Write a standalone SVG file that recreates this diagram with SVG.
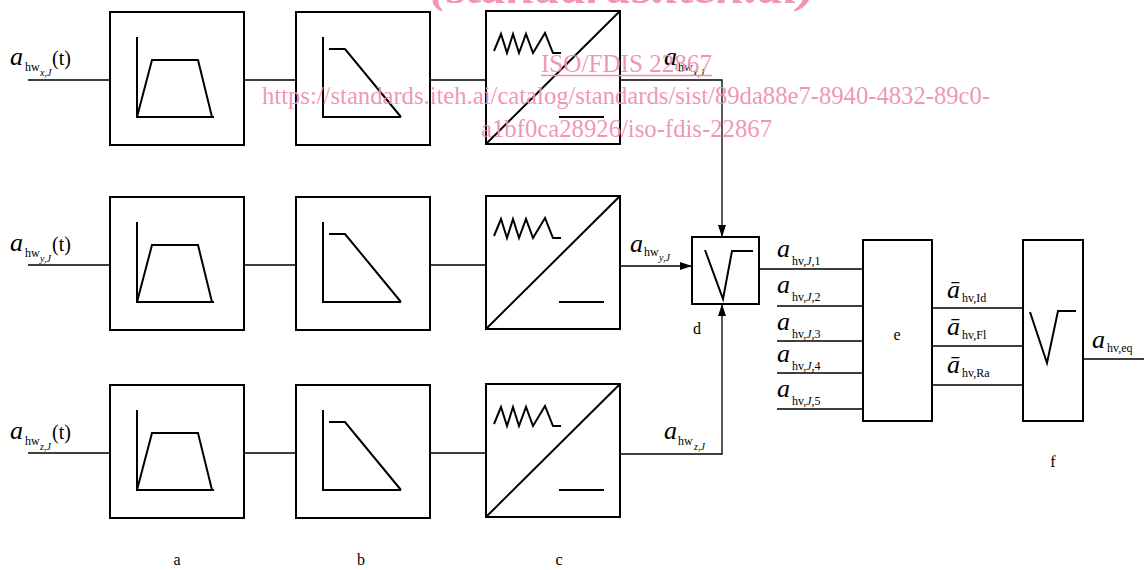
<svg xmlns="http://www.w3.org/2000/svg" width="1144" height="570" viewBox="0 0 1144 570">
<style>
.box{fill:#fff;stroke:#000;stroke-width:2}
.sym{fill:none;stroke:#000;stroke-width:2;stroke-linejoin:miter}
.wire{fill:none;stroke:#000;stroke-width:1.3}
text{font-family:"Liberation Serif","Times New Roman",serif;fill:#000}
.big{font-size:26px;font-style:italic}
.sub{font-size:12px}
.ssub{font-size:10px;font-style:italic}
.par{font-size:20px}
.lbl{font-size:16px;text-anchor:middle}
.wm{fill:#f090b0;fill-opacity:0.95;font-family:"Liberation Serif","Times New Roman",serif}
</style>
<defs>
<marker id="arr" viewBox="0 0 12 8" refX="12" refY="4" markerWidth="12" markerHeight="8" markerUnits="userSpaceOnUse" orient="auto">
<path d="M0,0 L12,4 L0,8 Z" fill="#000"/>
</marker>
<g id="nodeA">
<rect class="box" x="110" y="12" width="134" height="133"/>
<path class="sym" d="M137,37 V117 H214 M137,117 L152,60 H198 L212,117"/>
</g>
<g id="nodeB">
<rect class="box" x="296" y="12" width="134" height="133"/>
<path class="sym" d="M323,37 V117 H401 M329,49 H345 L401,117"/>
</g>
<g id="nodeC">
<rect class="box" x="486" y="11" width="134" height="133"/>
<path class="sym" d="M486,144 L620,11"/>
<path class="sym" d="M494,51 L501,34 L507,53 L513,34 L519,53 L526,34 L533,53 L545,33 L553,53 H561"/>
<path class="sym" d="M559,117 H604"/>
</g>
</defs>

<g id="connectors">
<path class="wire" d="M28,80 H110 M244,80 H296 M430,80 H486"/>
<path class="wire" d="M28,265 H110 M244,265 H296 M430,265 H486"/>
<path class="wire" d="M28,453 H110 M244,453 H296 M430,453 H486"/>
<path class="wire" d="M620,80 H722 V237" marker-end="url(#arr)"/>
<path class="wire" d="M620,266 H692" marker-end="url(#arr)"/>
<path class="wire" d="M620,454 H722 V304" marker-end="url(#arr)"/>
<path class="wire" d="M759,269 H863 M777,306 H863 M777,341 H863 M777,373 H863 M777,409 H863"/>
<path class="wire" d="M932,308 H1023 M932,346 H1023 M932,385 H1023"/>
<path class="wire" d="M1083,359 H1144"/>
</g>

<g id="row1">
<use id="a1" href="#nodeA"/>
<use id="b1" href="#nodeB"/>
<use id="c1" href="#nodeC"/>
</g>
<g id="row2" transform="translate(0,185)">
<use id="a2" href="#nodeA"/>
<use id="b2" href="#nodeB"/>
<use id="c2" href="#nodeC"/>
</g>
<g id="row3" transform="translate(0,373)">
<use id="a3" href="#nodeA"/>
<use id="b3" href="#nodeB"/>
<use id="c3" href="#nodeC"/>
</g>

<g id="nodeD">
<rect class="box" x="692" y="237" width="67" height="67"/>
<path class="sym" d="M705,250 L723,299 L732,251 H753"/>
<text class="lbl" x="697" y="334">d</text>
</g>
<g id="nodeE">
<rect class="box" x="863" y="240" width="69" height="181"/>
<text class="lbl" x="897" y="340">e</text>
</g>
<g id="nodeF">
<rect class="box" x="1023" y="240" width="60" height="181"/>
<path class="sym" d="M1030,312 L1047,363 L1058,311 H1076"/>
<text class="lbl" x="1053" y="467">f</text>
</g>

<g id="labels">
<text class="lbl" x="177" y="565">a</text>
<text class="lbl" x="361" y="565">b</text>
<text class="lbl" x="559" y="565">c</text>

<text class="big" x="10" y="65">a</text><text class="sub" x="25" y="71">hw</text><text class="ssub" x="40" y="76">x,J</text><text class="par" x="52" y="65">(t)</text>
<text class="big" x="10" y="251">a</text><text class="sub" x="25" y="257">hw</text><text class="ssub" x="40" y="262">y,J</text><text class="par" x="52" y="251">(t)</text>
<text class="big" x="10" y="439">a</text><text class="sub" x="25" y="445">hw</text><text class="ssub" x="40" y="450">z,J</text><text class="par" x="52" y="439">(t)</text>

<text class="big" x="664" y="65">a</text><text class="sub" x="678" y="71">hw</text><text class="ssub" x="693" y="76">x,J</text>
<text class="big" x="630" y="252">a</text><text class="sub" x="644" y="256">hw</text><text class="ssub" x="659" y="261">y,J</text>
<text class="big" x="664" y="439">a</text><text class="sub" x="678" y="445">hw</text><text class="ssub" x="694" y="450">z,J</text>

<text class="big" x="777" y="257">a</text><text class="sub" x="792" y="265">hv,<tspan font-style="italic">J</tspan>,1</text>
<text class="big" x="777" y="293">a</text><text class="sub" x="792" y="301">hv,<tspan font-style="italic">J</tspan>,2</text>
<text class="big" x="777" y="330">a</text><text class="sub" x="792" y="338">hv,<tspan font-style="italic">J</tspan>,3</text>
<text class="big" x="777" y="362">a</text><text class="sub" x="792" y="370">hv,<tspan font-style="italic">J</tspan>,4</text>
<text class="big" x="777" y="397">a</text><text class="sub" x="792" y="405">hv,<tspan font-style="italic">J</tspan>,5</text>

<text class="big" x="947" y="298">ā</text><text class="sub" x="962" y="302">hv,Id</text>
<text class="big" x="947" y="335">ā</text><text class="sub" x="962" y="339">hv,Fl</text>
<text class="big" x="947" y="373">ā</text><text class="sub" x="962" y="377">hv,Ra</text>

<text class="big" x="1092" y="348">a</text><text class="sub" x="1107" y="352">hv,eq</text>
</g>

<g id="watermark">
<text class="wm" x="430" y="3" font-size="40" font-weight="bold" font-style="italic" textLength="385" lengthAdjust="spacingAndGlyphs">(standards.iteh.ai)</text>
<text class="wm" x="541" y="72" font-size="25" textLength="171" lengthAdjust="spacingAndGlyphs">ISO/FDIS 22867</text>
<path d="M541,75.5 H712" stroke="#f090b0" stroke-width="1.3"/>
<text class="wm" x="262" y="104" font-size="25" textLength="728" lengthAdjust="spacingAndGlyphs">https://standards.iteh.ai/catalog/standards/sist/89da88e7-8940-4832-89c0-</text>
<text class="wm" x="481" y="137" font-size="25" textLength="291" lengthAdjust="spacingAndGlyphs">a1bf0ca28926/iso-fdis-22867</text>
</g>
</svg>
